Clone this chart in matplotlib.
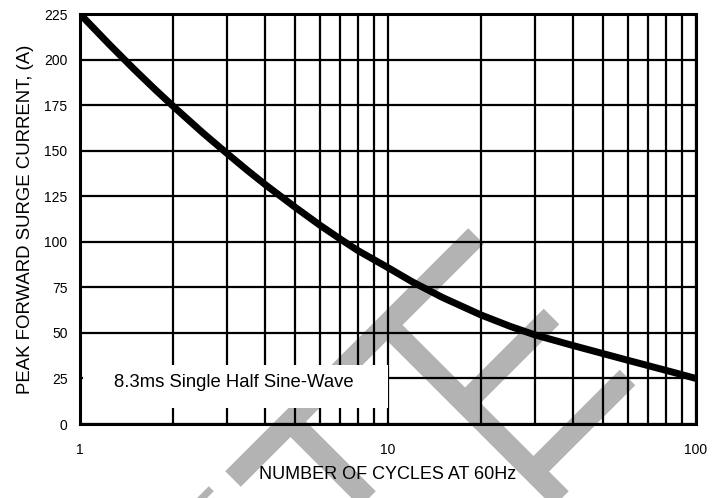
import matplotlib
matplotlib.use("Agg")
import matplotlib.pyplot as plt
from matplotlib.lines import Line2D
from matplotlib.patches import Rectangle
from matplotlib.ticker import FixedLocator, FixedFormatter, NullFormatter

plt.rcParams['font.family'] = ['Liberation Sans', 'DejaVu Sans']

# ---- data ----
cycles = [1, 1.25, 1.5, 1.75, 2, 2.5, 3, 3.5, 4, 5, 6, 7, 8, 10, 12, 15,
          20, 25, 30, 40, 50, 60, 70, 80, 100]
current = [225, 208, 194.6, 183.7, 174.6, 159.9, 148.5, 139.1, 131.3, 118.9,
           109.2, 101.5, 95.1, 85.8, 78, 69.5, 59.9, 53.5, 48.9, 43, 38.6,
           35, 32, 29.4, 25]
y_ticks = [0, 25, 50, 75, 100, 125, 150, 175, 200, 225]
x_ticks = [1, 10, 100]
x_tick_labels = ["1", "10", "100"]
x_minor = [2, 3, 4, 5, 6, 7, 8, 9, 20, 30, 40, 50, 60, 70, 80, 90]
x_label = "NUMBER OF CYCLES AT 60Hz"
y_label = "PEAK FORWARD SURGE CURRENT, (A)"
note = "8.3ms Single Half Sine-Wave"

W, H = 725, 498
fig = plt.figure(figsize=(W / 100, H / 100), dpi=100, facecolor='white')
ax = fig.add_axes([80 / W, 1 - 424 / H, 616 / W, 410 / H])
ax.patch.set_visible(False)
ax.set_zorder(1)

# ---- watermark strokes (a = x - y, b = x + y, pixel space) ----
wm_color = '#b3b3b3'
strokes = [
    ('b', 712, -246, 240),
    ('a', 62, 712, 1130),
    ('b', 868, 62, 235),
    ('b', 1005, 62, 250),
    ('a', -131, 712, 1130),
    ('a', -293, 695, 1130),
]
for kind, c, s0, s1 in strokes:
    if kind == 'b':
        pts = [((a + c) / 2, (c - a) / 2) for a in (s0, s1)]
    else:
        pts = [((c + b) / 2, (b - c) / 2) for b in (s0, s1)]
    xs = [p[0] / W for p in pts]
    ys = [1 - p[1] / H for p in pts]
    fig.add_artist(Line2D(xs, ys, transform=fig.transFigure, color=wm_color,
                          lw=22 * 0.72, solid_capstyle='butt', zorder=0))

ax.set_xscale('log')
ax.set_xlim(1, 100)
ax.set_ylim(0, 225)

ax.xaxis.set_major_locator(FixedLocator(x_ticks))
ax.xaxis.set_major_formatter(FixedFormatter(x_tick_labels))
ax.xaxis.set_minor_locator(FixedLocator(x_minor))
ax.xaxis.set_minor_formatter(NullFormatter())
ax.set_yticks(y_ticks)

ax.grid(which='both', color='black', lw=1.6, zorder=1)
ax.set_axisbelow(True)
ax.tick_params(which='both', length=0)
ax.tick_params(axis='y', pad=9, labelsize=10)
ax.tick_params(axis='x', pad=14, labelsize=10)
for sp in ax.spines.values():
    sp.set_linewidth(2.2)
    sp.set_color('black')

ax.plot(cycles, current, color='black', lw=5, solid_capstyle='butt',
        solid_joinstyle='round', zorder=4, clip_on=True)

# white note box covering the grid
ax.add_patch(Rectangle((3 / 616, 16 / 410), 305 / 616, 43 / 410,
                       transform=ax.transAxes, facecolor='white',
                       edgecolor='none', zorder=3))
ax.text(34 / 616, 41.5 / 410, note, transform=ax.transAxes, fontsize=13.3,
        va='center', ha='left', zorder=5)

ax.set_xlabel(x_label, fontsize=13, labelpad=6)
ax.set_ylabel(y_label, fontsize=13.4, labelpad=7)

fig.savefig("out.png", dpi=100, facecolor='white')
